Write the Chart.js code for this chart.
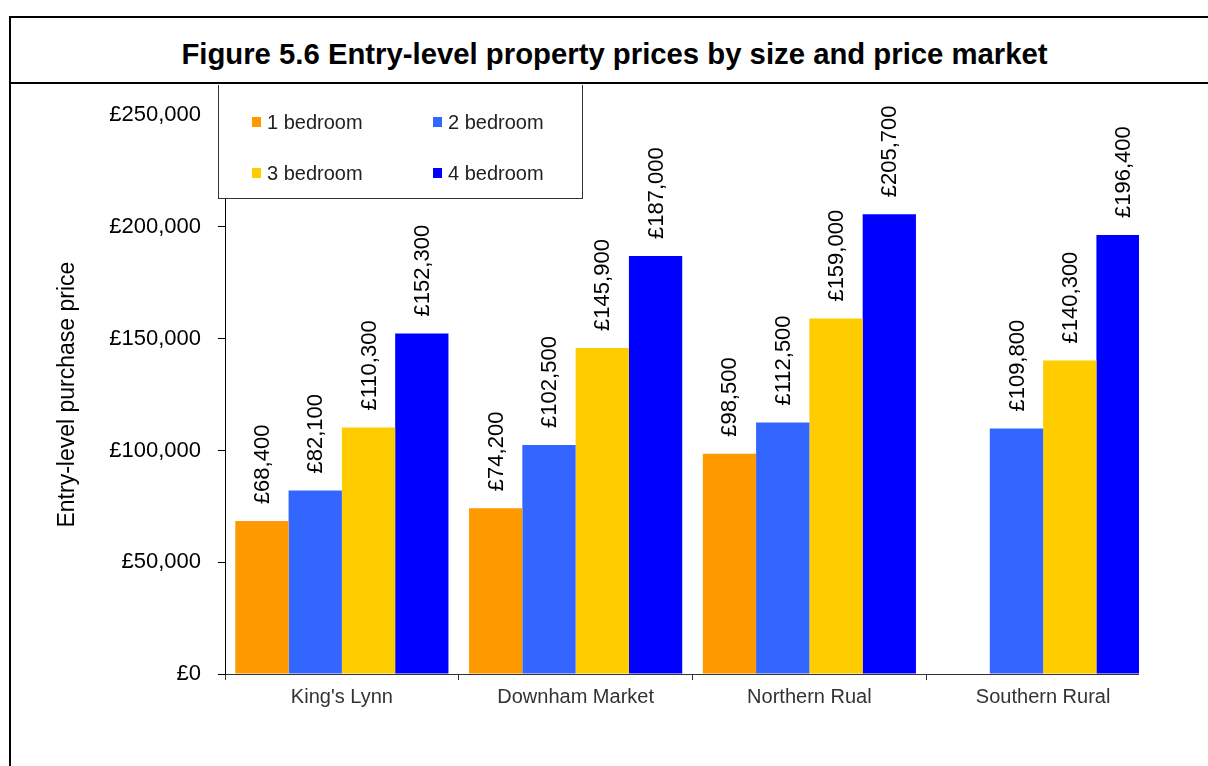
<!DOCTYPE html>
<html>
<head>
<meta charset="utf-8">
<script src="https://cdn.jsdelivr.net/npm/chart.js@4/dist/chart.umd.min.js"></script>
<style>
  html, body { margin: 0; padding: 0; background: #fff; overflow: hidden; }
  body { width: 1208px; height: 766px; position: relative; font-family: "Liberation Sans", Arial, sans-serif; }
  .rule { position: absolute; background: #000; }
  #title {
    position: absolute; left: 0; top: 39px; width: 1229px;
    text-align: center; font-weight: bold; font-size: 29.3px; line-height: 29px; color: #000;
    white-space: nowrap;
  }
  #plotWrap { position: absolute; left: 0; top: 85px; width: 1139px; height: 681px; overflow: hidden; }
  #chart { position: absolute; left: 0; top: 0; }
</style>
</head>
<body>
<div class="rule" style="left:9px; top:16px; width:1199px; height:2px;"></div>
<div class="rule" style="left:9px; top:16px; width:2px; height:750px;"></div>
<div class="rule" style="left:9px; top:82px; width:1199px; height:2px;"></div>
<div id="title">Figure 5.6 Entry-level property prices by size and price market</div>
<div id="plotWrap"><canvas id="chart" width="1175" height="681"></canvas></div>

<script>
// Price markets and entry-level prices (£) by number of bedrooms
const markets = ["King's Lynn", "Downham Market", "Northern Rual", "Southern Rural"];
const oneBed   = [68400, 74200, 98500, null];
const twoBed   = [82100, 102500, 112500, 109800];
const threeBed = [110300, 145900, 159000, 140300];
const fourBed  = [152300, 187000, 205700, 196400];

const seriesNames  = ['1 bedroom', '2 bedroom', '3 bedroom', '4 bedroom'];
const seriesColors = ['#FF9900', '#3366FF', '#FFCC00', '#0000FF'];

const yTicks = [0, 50000, 100000, 150000, 200000, 250000];

const FONT = '"Liberation Sans", Arial, sans-serif';
const money = v => '£' + v.toLocaleString('en-GB');

// Value labels written vertically above each bar
const valueLabels = {
  id: 'valueLabels',
  afterDatasetsDraw(chart) {
    const ctx = chart.ctx;
    ctx.save();
    ctx.font = '22px ' + FONT;
    ctx.fillStyle = '#000';
    ctx.textAlign = 'left';
    ctx.textBaseline = 'middle';
    chart.data.datasets.forEach((ds, i) => {
      chart.getDatasetMeta(i).data.forEach((bar, j) => {
        const v = ds.data[j];
        if (v === null || v === undefined) return;
        ctx.save();
        ctx.translate(bar.x + 1, bar.y - 17);
        ctx.rotate(-Math.PI / 2);
        ctx.fillText(money(v), 0, 0);
        ctx.restore();
      });
    });
    ctx.restore();
  }
};

// Boxed two-column key in the top-left of the plot
const keyBox = {
  id: 'keyBox',
  afterDraw(chart) {
    const ctx = chart.ctx;
    const box = { l: 218.5, r: 582.5, t: -5, b: 113.5 };
    ctx.save();
    ctx.fillStyle = '#fff';
    ctx.fillRect(box.l, box.t, box.r - box.l, box.b - box.t);
    ctx.strokeStyle = '#333';
    ctx.lineWidth = 1;
    ctx.strokeRect(box.l, box.t, box.r - box.l, box.b - box.t);
    ctx.font = '20px ' + FONT;
    ctx.textBaseline = 'middle';
    ctx.textAlign = 'left';
    const cols = [252, 433];
    const rows = [37, 88];
    chart.data.datasets.forEach((ds, i) => {
      const x = cols[i % 2], y = rows[Math.floor(i / 2)];
      ctx.fillStyle = ds.backgroundColor;
      ctx.fillRect(x, y - 5, 9, 10);
      ctx.fillStyle = '#222';
      ctx.fillText(ds.label, x + 15, y + 1);
    });
    ctx.restore();
  }
};

const datasets = [oneBed, twoBed, threeBed, fourBed].map((d, i) => ({
  label: seriesNames[i],
  data: d,
  backgroundColor: seriesColors[i],
  borderWidth: 0,
  categoryPercentage: 0.912,
  barPercentage: 1.0
}));

new Chart(document.getElementById('chart'), {
  type: 'bar',
  data: { labels: markets, datasets },
  options: {
    responsive: false,
    animation: false,
    devicePixelRatio: 1,
    layout: { padding: { left: 0, top: 22.5, right: 15, bottom: 0 } },
    plugins: {
      legend: { display: false },
      title: { display: false },
      tooltip: { enabled: false }
    },
    scales: {
      x: {
        afterFit(scale) { scale.height = 92; },
        grid: { display: true, drawOnChartArea: false, offset: true, tickLength: 6, color: '#333' },
        border: { display: true, color: '#333', width: 1 },
        ticks: { color: '#333', font: { family: FONT, size: 20 }, padding: 5, maxRotation: 0 }
      },
      y: {
        min: 0,
        max: 250000,
        afterFit(scale) { scale.width = 225; },
        afterBuildTicks(scale) { scale.ticks = yTicks.map(v => ({ value: v })); },
        grid: { display: true, drawOnChartArea: false, tickLength: 7, color: '#000' },
        border: { display: true, color: '#000', width: 1 },
        ticks: {
          color: '#000',
          font: { family: FONT, size: 22 },
          padding: 17,
          callback: v => money(v)
        },
        title: {
          display: true,
          text: 'Entry-level purchase price',
          color: '#000',
          font: { family: FONT, size: 23 },
          padding: { top: 54, bottom: 0 }
        }
      }
    }
  },
  plugins: [valueLabels, keyBox]
});
</script>
</body>
</html>
